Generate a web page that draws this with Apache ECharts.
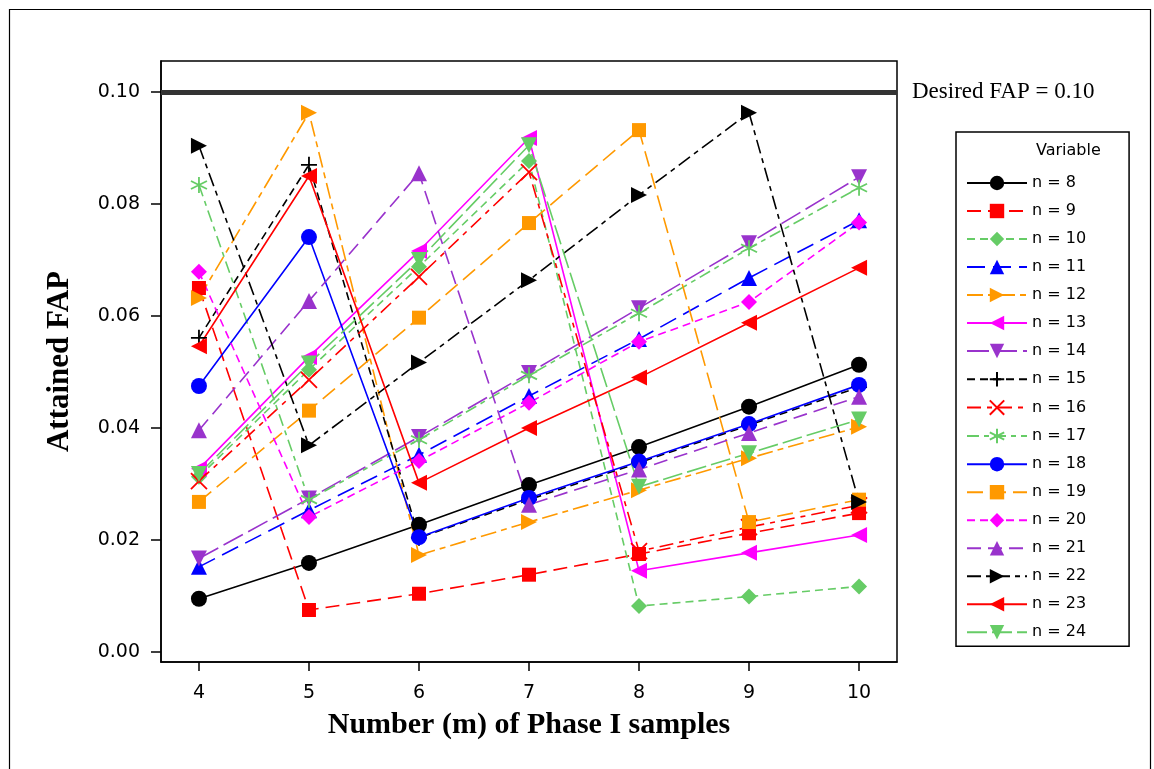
<!DOCTYPE html>
<html>
<head>
<meta charset="utf-8">
<title>Attained FAP</title>
<script src="https://cdn.jsdelivr.net/npm/echarts@6/dist/echarts.min.js"></script>
<style>
  html, body { margin: 0; padding: 0; background: #fff; }
  #chart { width: 1154px; height: 769px; }
</style>
</head>
<body>
<div id="chart"></div>
<script>
// Number (m) of Phase I samples
const mValues = [4, 5, 6, 7, 8, 9, 10];
const yTicks = [0, 0.02, 0.04, 0.06, 0.08, 0.10];
const desiredFAP = 0.10;

// Attained FAP for each subgroup size n
const n8  = [0.0095, 0.0159, 0.0227, 0.0298, 0.0366, 0.0438, 0.0513];
const n9  = [0.0650, 0.0075, 0.0104, 0.0138, 0.0175, 0.0212, 0.0248];
const n10 = [0.0313, 0.0504, 0.0688, 0.0877, 0.0082, 0.0099, 0.0117];
const n11 = [0.0152, 0.0253, 0.0352, 0.0457, 0.0559, 0.0668, 0.0771];
const n12 = [0.0632, 0.0963, 0.0173, 0.0232, 0.0289, 0.0346, 0.0402];
const n13 = [0.0327, 0.0527, 0.0716, 0.0918, 0.0145, 0.0177, 0.0209];
const n14 = [0.0167, 0.0274, 0.0384, 0.0498, 0.0614, 0.0730, 0.0848];
const n15 = [0.0561, 0.0870, 0.0204, 0.0272, 0.0338, 0.0405, 0.0473];
const n16 = [0.0305, 0.0486, 0.0670, 0.0857, 0.0180, 0.0223, 0.0262];
const n17 = [0.0834, 0.0272, 0.0379, 0.0494, 0.0605, 0.0721, 0.0829];
const n18 = [0.0475, 0.0741, 0.0205, 0.0275, 0.0340, 0.0407, 0.0477];
const n19 = [0.0268, 0.0431, 0.0597, 0.0766, 0.0932, 0.0232, 0.0272];
const n20 = [0.0679, 0.0241, 0.0341, 0.0445, 0.0554, 0.0625, 0.0767];
const n21 = [0.0396, 0.0627, 0.0855, 0.0263, 0.0326, 0.0391, 0.0456];
const n22 = [0.0904, 0.0369, 0.0517, 0.0664, 0.0816, 0.0963, 0.0268];
const n23 = [0.0546, 0.0850, 0.0302, 0.0400, 0.0490, 0.0588, 0.0686];
const n24 = [0.0318, 0.0515, 0.0700, 0.0905, 0.0295, 0.0355, 0.0415];

const BLACK = '#000000', RED = '#ff0000', GREEN = '#66cc66', BLUE = '#0000ff',
      ORANGE = '#ff9900', MAGENTA = '#ff00ff', PURPLE = '#9933cc';

const PLUS = 'path://M5,0 L5,10 M0,5 L10,5';
const CROSS = 'path://M0,0 L10,10 M10,0 L0,10';
const STAR = 'path://M5,0 L5,10 M0.7,2.5 L9.3,7.5 M9.3,2.5 L0.7,7.5';

// name, values, colour, symbol, rotation, line dash, stroked symbol
const seriesDefs = [
  ['n = 8',  n8,  BLACK,   'circle',   0,   'solid',          false],
  ['n = 9',  n9,  RED,     'rect',     0,   [14, 7],          false],
  ['n = 10', n10, GREEN,   'diamond',  0,   [8, 5],           false],
  ['n = 11', n11, BLUE,    'triangle', 0,   [18, 8],          false],
  ['n = 12', n12, ORANGE,  'triangle', -90, [16, 5, 6, 5],    false],
  ['n = 13', n13, MAGENTA, 'triangle', 90,  'solid',          false],
  ['n = 14', n14, PURPLE,  'triangle', 180, [22, 6],          false],
  ['n = 15', n15, BLACK,   PLUS,       0,   [8, 5],           true],
  ['n = 16', n16, RED,     CROSS,      0,   [14, 6, 5, 6],    true],
  ['n = 17', n17, GREEN,   STAR,       0,   [12, 5, 5, 5],    true],
  ['n = 18', n18, BLUE,    'circle',   0,   'solid',          false],
  ['n = 19', n19, ORANGE,  'rect',     0,   [16, 7],          false],
  ['n = 20', n20, MAGENTA, 'diamond',  0,   [8, 5],           false],
  ['n = 21', n21, PURPLE,  'triangle', 0,   [14, 7],          false],
  ['n = 22', n22, BLACK,   'triangle', -90, [14, 5, 5, 5],    false],
  ['n = 23', n23, RED,     'triangle', 90,  'solid',          false],
  ['n = 24', n24, GREEN,   'triangle', 180, [20, 5],          false]
];

const series = seriesDefs.map(function (d, i) {
  const s = {
    name: d[0],
    type: 'line',
    data: mValues.map(function (m, k) { return [m, d[1][k]]; }),
    symbol: d[3],
    symbolRotate: d[4],
    symbolSize: d[3] === 'rect' ? 14 : 16,
    showAllSymbol: true,
    animation: false,
    z: 2,
    lineStyle: { color: d[2], width: 1.6, type: d[5] },
    itemStyle: d[6]
      ? { color: 'rgba(0,0,0,0)', borderColor: d[2], borderWidth: 1.8 }
      : { color: d[2], borderWidth: 0 },
    emphasis: { disabled: true }
  };
  if (i === 0) {
    // Target false alarm probability reference line
    s.markLine = {
      silent: true,
      symbol: 'none',
      z: 1,
      lineStyle: { color: '#333333', width: 5, type: 'solid' },
      label: {
        show: true,
        position: 'end',
        distance: 15,
        formatter: 'Desired FAP = 0.10',
        fontFamily: '"Liberation Serif", serif',
        fontSize: 23,
        color: '#000'
      },
      data: [{ yAxis: desiredFAP }]
    };
  }
  return s;
});

const chart = echarts.init(document.getElementById('chart'), null, { renderer: 'canvas' });

chart.setOption({
  backgroundColor: '#ffffff',
  animation: false,
  grid: {
    left: 161, top: 61, right: 257, bottom: 107,
    show: true, borderColor: '#000', borderWidth: 1.5, backgroundColor: 'transparent'
  },
  xAxis: {
    type: 'value',
    min: 3.655, max: 10.345,
    name: 'Number (m) of Phase I samples',
    nameLocation: 'middle',
    nameGap: 48,
    nameTextStyle: { fontFamily: '"Liberation Serif", serif', fontWeight: 'bold', fontSize: 30, color: '#000' },
    splitLine: { show: false },
    axisLine: { show: true, onZero: false, lineStyle: { color: '#000', width: 1.5 } },
    axisTick: { show: true, length: 9, lineStyle: { color: '#000', width: 1.5 }, customValues: mValues },
    axisLabel: {
      color: '#000', fontFamily: '"DejaVu Sans", sans-serif', fontSize: 19, margin: 22,
      customValues: mValues,
      formatter: function (v) { return String(v); }
    }
  },
  yAxis: {
    type: 'value',
    min: -0.00179, max: 0.10554,
    name: 'Attained FAP',
    nameLocation: 'middle',
    nameGap: 86,
    nameTextStyle: { fontFamily: '"Liberation Serif", serif', fontWeight: 'bold', fontSize: 31, color: '#000' },
    splitLine: { show: false },
    axisLine: { show: true, onZero: false, lineStyle: { color: '#000', width: 1.5 } },
    axisTick: { show: true, length: 10, lineStyle: { color: '#000', width: 1.5 }, customValues: yTicks },
    axisLabel: {
      color: '#000', fontFamily: '"DejaVu Sans", sans-serif', fontSize: 19, margin: 21,
      customValues: yTicks,
      formatter: function (v) { return v.toFixed(2); }
    }
  },
  legend: {
    orient: 'vertical',
    left: 956, top: 132,
    padding: [43, 43, 6, 10],
    borderColor: '#000', borderWidth: 1.5,
    itemWidth: 60, itemHeight: 18, itemGap: 12,
    textStyle: { fontFamily: '"DejaVu Sans", sans-serif', fontSize: 16, color: '#000' },
    selectedMode: false,
    data: seriesDefs.map(function (d) { return d[0]; })
  },
  graphic: [
    {
      type: 'text', left: 1036, top: 143, silent: true,
      style: { text: 'Variable', fontFamily: '"DejaVu Sans", sans-serif', fontSize: 16, fill: '#000' }
    },
    {
      type: 'rect', left: 7, top: 7, silent: true, z: -1,
      shape: { width: 1141, height: 790 },
      style: { fill: 'none', stroke: '#000', lineWidth: 1.2 }
    }
  ],
  series: series
});
</script>
</body>
</html>
